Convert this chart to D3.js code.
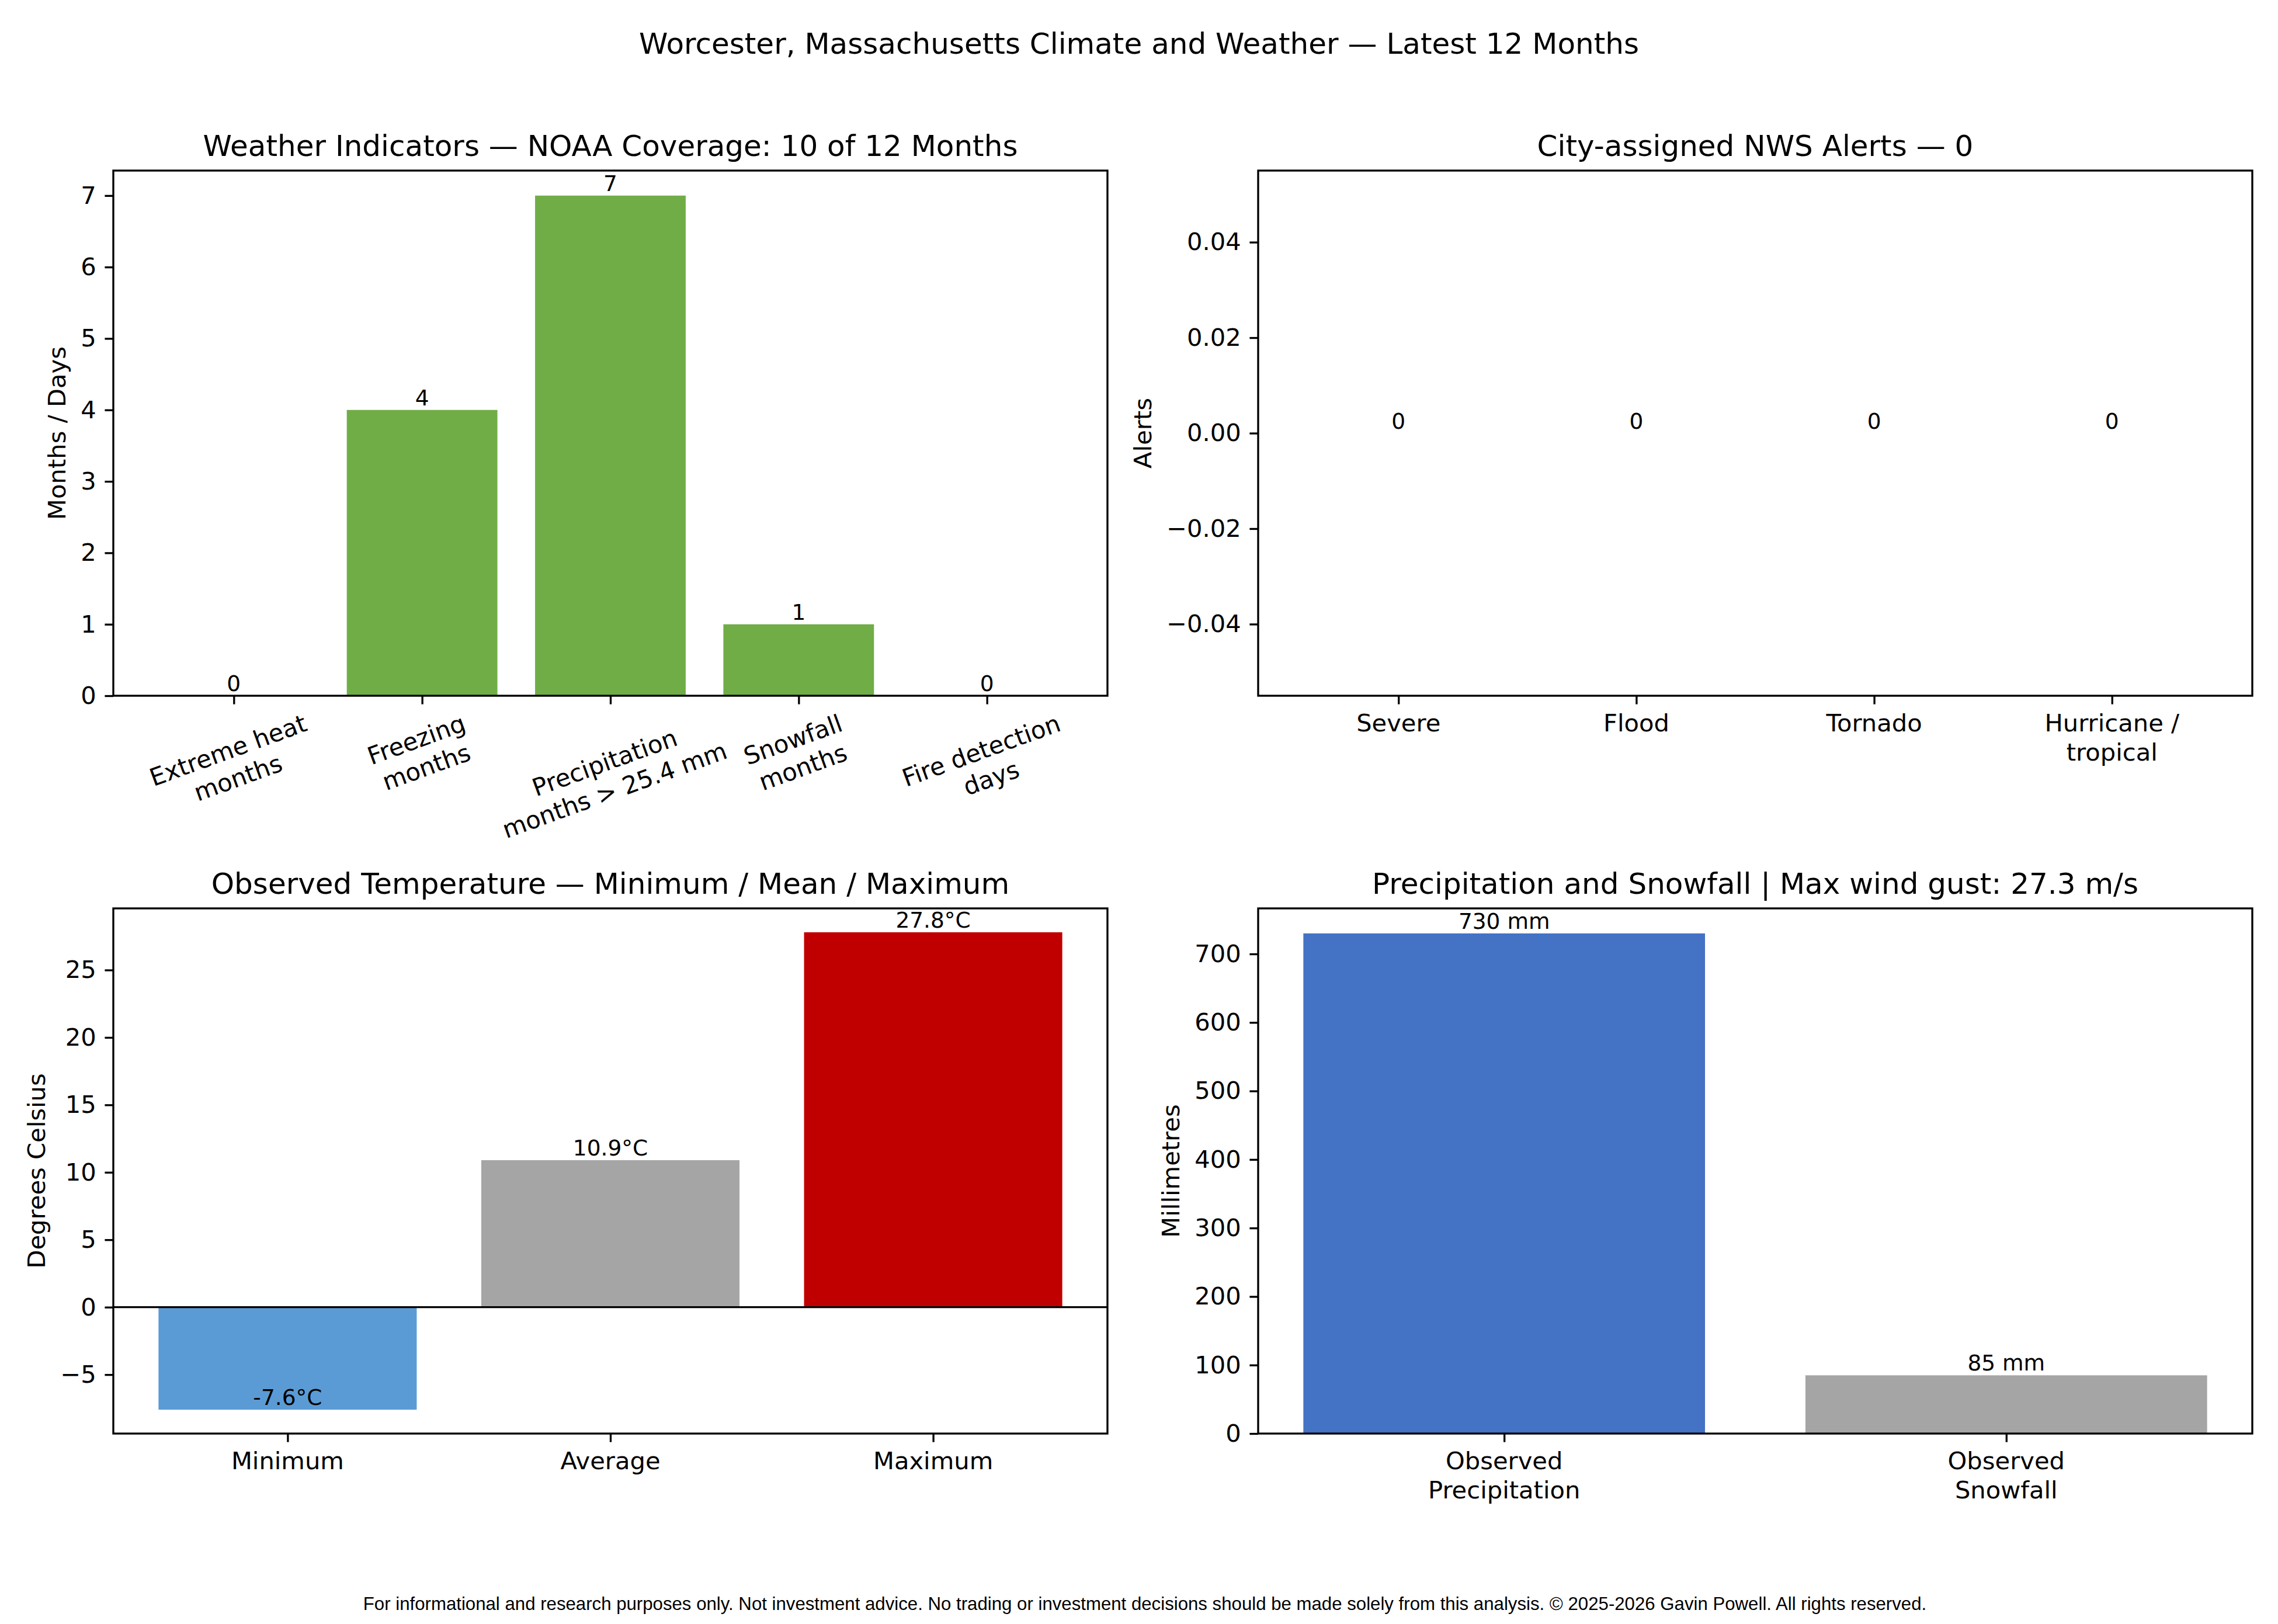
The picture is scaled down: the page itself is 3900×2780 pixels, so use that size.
<!DOCTYPE html>
<html>
<head>
<meta charset="utf-8">
<script src="https://cdn.jsdelivr.net/npm/d3@7"></script>
<style>
  body { margin: 0; background: #fff; }
  text { font-family: "DejaVu Sans", sans-serif; fill: #000; }
</style>
</head>
<body>
<svg id="chart"></svg>
<script>
// ---- data ----
var indicatorCats = ["Extreme heat\nmonths", "Freezing\nmonths", "Precipitation\nmonths > 25.4 mm", "Snowfall\nmonths", "Fire detection\ndays"];
var indicatorValues = [0, 4, 7, 1, 0];
var indicatorTicks = [0, 1, 2, 3, 4, 5, 6, 7];

var alertCats = ["Severe", "Flood", "Tornado", "Hurricane /\ntropical"];
var alertValues = [0, 0, 0, 0];
var alertTicks = [-0.04, -0.02, 0, 0.02, 0.04];

var tempCats = ["Minimum", "Average", "Maximum"];
var tempValues = [-7.6, 10.9, 27.8];
var tempTicks = [-5, 0, 5, 10, 15, 20, 25];

var precipCats = ["Observed\nPrecipitation", "Observed\nSnowfall"];
var precipValues = [730, 85];
var precipTicks = [0, 100, 200, 300, 400, 500, 600, 700];

// ---- styles ----
var green = "#70AD47", blueLight = "#5B9BD5", grey = "#A5A5A5", red = "#C00000", blue = "#4472C4";

var W = 3900, H = 2780;
var PT = 300 / 72;                 // figure was saved at 300 dpi
var tickLen = 3.5 * PT, tickPad = 3.5 * PT, lw = 0.8 * PT;
var tickFont = 10 * PT, titleFont = 12 * PT, valFont = 9 * PT;
var lineH = 1.2 * tickFont;

var svg = d3.select("#chart").attr("width", W).attr("height", H);
svg.append("rect").attr("width", W).attr("height", H).attr("fill", "#fff");

function barPanel(o) {
  var n = o.values.length;
  var m = 0.05 * (n - 1 + 0.8);
  var x = d3.scaleLinear()
    .domain([-0.4 - m, n - 1 + 0.4 + m])
    .range([o.left, o.left + o.width]);

  var lo = Math.min(0, d3.min(o.values)), hi = Math.max(0, d3.max(o.values));
  var dom;
  if (hi === lo) { dom = [-0.055, 0.055]; }
  else { var p = 0.05 * (hi - lo); dom = [lo < 0 ? lo - p : 0, hi + p]; }
  var y = d3.scaleLinear().domain(dom).range([o.top + o.height, o.top]);
  var bottom = o.top + o.height;

  var g = svg.append("g");

  // bars
  g.selectAll("rect.bar")
    .data(o.values)
    .join("rect")
      .attr("class", "bar")
      .attr("x", function(d, i) { return x(i - 0.4); })
      .attr("width", function(d, i) { return x(i + 0.4) - x(i - 0.4); })
      .attr("y", function(d) { return y(Math.max(0, d)); })
      .attr("height", function(d) { return Math.abs(y(d) - y(0)); })
      .attr("fill", function(d, i) { return o.colors[i % o.colors.length]; });

  if (o.zeroLine) {
    g.append("line")
      .attr("x1", o.left).attr("x2", o.left + o.width)
      .attr("y1", y(0)).attr("y2", y(0))
      .attr("stroke", "#000").attr("stroke-width", lw);
  }

  // value labels
  g.selectAll("text.val")
    .data(o.values)
    .join("text")
      .attr("class", "val")
      .attr("x", function(d, i) { return x(i); })
      .attr("y", function(d) { return y(d) - 8; })
      .attr("text-anchor", "middle")
      .attr("font-size", valFont)
      .text(function(d) { return o.valFmt(d); });

  // y axis
  var ya = g.append("g")
    .attr("transform", "translate(" + o.left + ",0)")
    .call(d3.axisLeft(y).tickValues(o.yTicks).tickFormat(o.yFmt)
      .tickSize(tickLen).tickPadding(tickPad));
  ya.select(".domain").remove();
  ya.selectAll("line").attr("stroke-width", lw);
  ya.selectAll("text").attr("font-size", tickFont);

  // x axis (ticks only, labels below)
  var xa = g.append("g")
    .attr("transform", "translate(0," + bottom + ")")
    .call(d3.axisBottom(x).tickValues(d3.range(n)).tickFormat("").tickSize(tickLen));
  xa.select(".domain").remove();
  xa.selectAll("line").attr("stroke-width", lw);

  o.cats.forEach(function(c, i) {
    var lines = c.split("\n");
    var t = g.append("text").attr("font-size", tickFont).attr("text-anchor", "middle");
    if (o.rotate) {
      var h = (lines.length - 1) * lineH + tickFont;
      lines.forEach(function(ln, k) {
        t.append("tspan").attr("x", 0).attr("y", -h / 2 + 0.76 * tickFont + k * lineH).text(ln);
      });
      var w = d3.max(t.selectAll("tspan").nodes(), function(nd) { return nd.getComputedTextLength(); });
      var a = o.rotate * Math.PI / 180;
      var bh = w * Math.sin(a) + h * Math.cos(a);
      var cy = bottom + tickLen + tickPad + bh / 2;
      t.attr("transform", "translate(" + x(i) + "," + cy + ") rotate(" + (-o.rotate) + ")");
    } else {
      lines.forEach(function(ln, k) {
        t.append("tspan").attr("x", x(i))
          .attr("y", bottom + tickLen + tickPad + 0.77 * tickFont + k * lineH).text(ln);
      });
    }
  });

  // y label
  var maxW = d3.max(ya.selectAll("text").nodes(), function(nd) { return nd.getBBox().width; });
  var lx = o.left - tickLen - tickPad - maxW - 4 * PT - 0.236 * tickFont;
  g.append("text")
    .attr("transform", "translate(" + lx + "," + (o.top + o.height / 2) + ") rotate(-90)")
    .attr("text-anchor", "middle")
    .attr("font-size", tickFont)
    .text(o.ylabel);

  // frame
  g.append("rect")
    .attr("x", o.left).attr("y", o.top)
    .attr("width", o.width).attr("height", o.height)
    .attr("fill", "none").attr("stroke", "#000").attr("stroke-width", lw);

  // title
  g.append("text")
    .attr("x", o.left + o.width / 2).attr("y", o.top - 6 * PT)
    .attr("text-anchor", "middle")
    .attr("font-size", titleFont)
    .text(o.title);
}

var colL = 194, colR = 2154, panelW = 1702, rowT = 292, rowB = 1555, panelH = 899;

barPanel({
  left: colL, top: rowT, width: panelW, height: panelH,
  cats: indicatorCats, values: indicatorValues, yTicks: indicatorTicks,
  colors: [green], rotate: 20,
  yFmt: d3.format("d"), valFmt: function(d) { return String(d); },
  ylabel: "Months / Days",
  title: "Weather Indicators \u2014 NOAA Coverage: 10 of 12 Months"
});

barPanel({
  left: colR, top: rowT, width: panelW, height: panelH,
  cats: alertCats, values: alertValues, yTicks: alertTicks,
  colors: [green],
  yFmt: d3.format(".2f"), valFmt: function(d) { return String(d); },
  ylabel: "Alerts",
  title: "City-assigned NWS Alerts \u2014 0"
});

barPanel({
  left: colL, top: rowB, width: panelW, height: panelH,
  cats: tempCats, values: tempValues, yTicks: tempTicks,
  colors: [blueLight, grey, red], zeroLine: true,
  yFmt: d3.format("d"), valFmt: function(d) { return d.toFixed(1) + "\u00B0C"; },
  ylabel: "Degrees Celsius",
  title: "Observed Temperature \u2014 Minimum / Mean / Maximum"
});

barPanel({
  left: colR, top: rowB, width: panelW, height: panelH,
  cats: precipCats, values: precipValues, yTicks: precipTicks,
  colors: [blue, grey],
  yFmt: d3.format("d"), valFmt: function(d) { return d + " mm"; },
  ylabel: "Millimetres",
  title: "Precipitation and Snowfall | Max wind gust: 27.3 m/s"
});

// figure title
svg.append("text")
  .attr("x", W / 2).attr("y", 92)
  .attr("text-anchor", "middle")
  .attr("font-size", titleFont)
  .text("Worcester, Massachusetts Climate and Weather \u2014 Latest 12 Months");

// footer
svg.append("text")
  .attr("x", 1960).attr("y", 2756)
  .attr("text-anchor", "middle")
  .attr("font-size", 31.2)
  .style("font-family", "'Liberation Sans', Arial, sans-serif")
  .text("For informational and research purposes only. Not investment advice. No trading or investment decisions should be made solely from this analysis. \u00A9 2025-2026 Gavin Powell. All rights reserved.");
</script>
</body>
</html>
